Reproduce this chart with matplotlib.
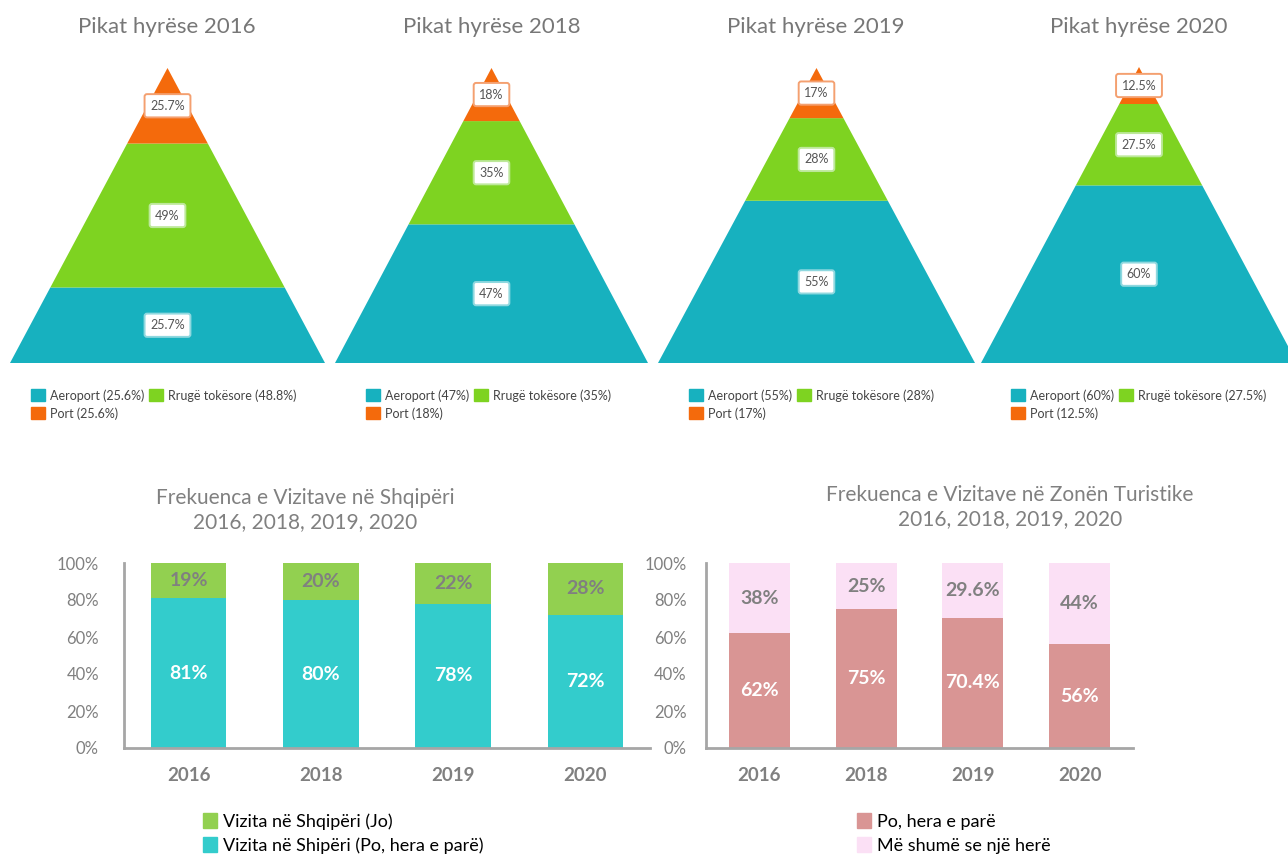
import matplotlib.pyplot as plt
from matplotlib.patches import Polygon, Patch

plt.rcParams['font.family'] = ['Lato', 'DejaVu Sans']

W, H = 1288, 861

# --- pyramid data (bottom -> top: Aeroport, Rrugë tokësore, Port)
pyr_years = ["2016", "2018", "2019", "2020"]
pyr_labels = [["25.7%", "49%", "25.7%"],
              ["47%", "35%", "18%"],
              ["55%", "28%", "17%"],
              ["60%", "27.5%", "12.5%"]]
aeroport = [25.6, 47, 55, 60]
rruge = [48.8, 35, 28, 27.5]
port = [25.6, 18, 17, 12.5]
pyr_names = ["Aeroport", "Rrugë tokësore", "Port"]
pyr_colors = ["#17b1bf", "#7ed321", "#f46a0c"]
pyr_edges = ["#8fd8df", "#bde89a", "#f4a070"]

# --- bar chart data
years = ["2016", "2018", "2019", "2020"]
shq_po = [81, 80, 78, 72]
shq_jo = [19, 20, 22, 28]
zone_po = [62, 75, 70.4, 56]
zone_me = [38, 25, 29.6, 44]
zone_po_lbl = ["62%", "75%", "70.4%", "56%"]
zone_me_lbl = ["38%", "25%", "29.6%", "44%"]

fig = plt.figure(figsize=(W / 100, H / 100), dpi=100)


def px_axes(x0, y0, x1, y1):
    return fig.add_axes([x0 / W, 1 - y1 / H, (x1 - x0) / W, (y1 - y0) / H])


# pyramid panels: (left base, right base, apex y, base y)
pyr_boxes = [(10, 325, 68, 363), (335, 648, 68, 363),
             (658, 975, 68, 363), (981, 1297, 67, 363)]
pyr_title_x = [167, 492, 816, 1139]
pyr_leg_x = [31, 366, 689, 1011]

for i, (x0, x1, y0, y1) in enumerate(pyr_boxes):
    ax = px_axes(x0, y0, x1, y1)
    ax.set_xlim(-1, 1)
    ax.set_ylim(0, 1)
    ax.axis("off")
    vals = [aeroport[i], rruge[i], port[i]]
    tot = sum(vals)
    h0 = 0
    for j, v in enumerate(vals):
        h1 = h0 + v / tot
        poly = Polygon([(-(1 - h0), h0), (1 - h0, h0), (1 - h1, h1), (-(1 - h1), h1)],
                       closed=True, facecolor=pyr_colors[j], edgecolor="none")
        ax.add_patch(poly)
        ax.text(0, (h0 + h1) / 2, pyr_labels[i][j], ha="center", va="center",
                fontsize=9, color="#555555",
                bbox=dict(boxstyle="round,pad=0.45,rounding_size=0.2", facecolor="white",
                          edgecolor=pyr_edges[j], linewidth=1.4))
        h0 = h1
    fig.text(pyr_title_x[i] / W, 1 - 27 / H, "Pikat hyrëse " + pyr_years[i],
             ha="center", va="center", fontsize=16, color="#777777")
    handles = [Patch(color=pyr_colors[0], label="%s (%g%%)" % (pyr_names[0], aeroport[i])),
               Patch(color=pyr_colors[2], label="%s (%g%%)" % (pyr_names[2], port[i])),
               Patch(color=pyr_colors[1], label="%s (%g%%)" % (pyr_names[1], rruge[i]))]
    fig.legend(handles=handles, loc="upper left",
               bbox_to_anchor=(pyr_leg_x[i] / W, 1 - 389 / H),
               ncol=2, frameon=False, fontsize=9, handlelength=1.1, handleheight=1.1,
               handletextpad=0.4, columnspacing=0.4, labelspacing=0.45,
               borderaxespad=0, borderpad=0, labelcolor="#444444")


def bar_panel(ax, bottom, top, c_bot, c_top, lbl_bot, lbl_top, pad):
    x = range(len(years))
    ax.bar(x, bottom, width=0.57, color=c_bot, zorder=2)
    ax.bar(x, top, bottom=bottom, width=0.57, color=c_top, zorder=2)
    for k in x:
        ax.text(k, bottom[k] / 2, lbl_bot[k], ha="center", va="center",
                fontsize=14, fontweight="bold", color="white")
        ax.text(k, bottom[k] + top[k] / 2, lbl_top[k], ha="center", va="center",
                fontsize=14, fontweight="bold", color="#808080")
    ax.set_ylim(0, 100)
    ax.set_yticks([0, 20, 40, 60, 80, 100])
    ax.set_yticklabels(["%d%%" % t for t in [0, 20, 40, 60, 80, 100]])
    ax.set_xticks(list(x))
    ax.set_xticklabels(years)
    ax.tick_params(axis="y", length=0, pad=pad, labelsize=12, labelcolor="#808080")
    ax.tick_params(axis="x", length=0, pad=14, labelsize=13.5, labelcolor="#808080")
    for t in ax.get_xticklabels():
        t.set_fontweight("bold")
    for s in ["top", "right"]:
        ax.spines[s].set_visible(False)
    for s in ["left", "bottom"]:
        ax.spines[s].set_color("#a6a6a6")
        ax.spines[s].set_linewidth(2)


# left bar chart
axl = px_axes(124, 563, 650, 748)
bar_panel(axl, shq_po, shq_jo, "#33cccc", "#92d050",
          ["%d%%" % v for v in shq_po], ["%d%%" % v for v in shq_jo], 18)
axl.set_xlim(-0.49, 3.49)
fig.text(305 / W, 1 - 510 / H, "Frekuenca e Vizitave në Shqipëri\n2016, 2018, 2019, 2020",
         ha="center", va="center", fontsize=15, color="#808080", linespacing=1.25)
hl = [Patch(color="#92d050", label="Vizita në Shqipëri (Jo)"),
      Patch(color="#33cccc", label="Vizita në Shipëri (Po, hera e parë)")]
fig.legend(handles=hl, loc="upper left", bbox_to_anchor=(203 / W, 1 - 813 / H),
           frameon=False, fontsize=13, handlelength=0.8, handleheight=0.9,
           handletextpad=0.3, labelspacing=0.4, borderaxespad=0, borderpad=0)

# right bar chart
axr = px_axes(706, 563, 1133, 748)
bar_panel(axr, zone_po, zone_me, "#d99594", "#fbe0f5", zone_po_lbl, zone_me_lbl, 14)
axr.set_xlim(-0.5, 3.5)
fig.text(1010 / W, 1 - 507 / H, "Frekuenca e Vizitave në Zonën Turistike\n2016, 2018, 2019, 2020",
         ha="center", va="center", fontsize=15, color="#808080", linespacing=1.25)
hr = [Patch(color="#d99594", label="Po, hera e parë"),
      Patch(color="#fbe0f5", label="Më shumë se një herë")]
fig.legend(handles=hr, loc="upper left", bbox_to_anchor=(857 / W, 1 - 813 / H),
           frameon=False, fontsize=13, handlelength=0.8, handleheight=0.9,
           handletextpad=0.3, labelspacing=0.4, borderaxespad=0, borderpad=0)

fig.savefig("out.png", dpi=100, facecolor="white")
